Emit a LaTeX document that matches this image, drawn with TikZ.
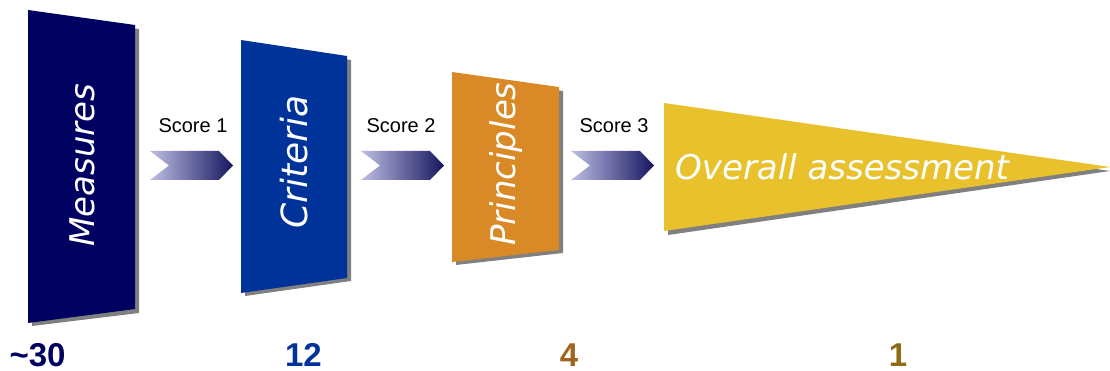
\documentclass[tikz,border=0pt]{standalone}
\usepackage{fontspec}
\setmainfont{Liberation Sans}
\newfontfamily\comicf{DejaVu Sans}
\definecolor{cMeas}{RGB}{0,0,96}
\definecolor{cCrit}{RGB}{0,51,153}
\definecolor{cPrin}{RGB}{217,138,38}
\definecolor{cOver}{RGB}{232,193,44}
\definecolor{cShadow}{RGB}{128,128,128}
\definecolor{cArrL}{RGB}{190,190,228}
\definecolor{cArrD}{RGB}{22,22,96}
\definecolor{cNumFour}{RGB}{160,100,30}
\definecolor{cNumOne}{RGB}{140,108,22}
\tikzset{
  shadowfill/.style={fill=cShadow},
  boxtext/.style={text=white, inner sep=0pt, font=\comicf\itshape\fontsize{34}{36}\selectfont},
  scorelabel/.style={inner sep=0pt, anchor=base, font=\fontsize{20}{22}\selectfont},
  numlabel/.style={inner sep=0pt, anchor=base, font=\bfseries\fontsize{33}{36}\selectfont},
}
\newcommand{\chevron}[2]{% #1 = left x, #2 = name
  \coordinate (#2) at (#1+41.5,165.5);
  \shade[left color=cArrL, right color=cArrD]
    (#1,151) -- (#1+69,151) -- (#1+83,165.5) -- (#1+69,180) -- (#1,180) -- (#1+19,165.5) -- cycle;
}
\begin{document}
\begin{tikzpicture}[x=1pt,y=-1pt]
\useasboundingbox (0,0) rectangle (1110,371);
% shadows
\fill[shadowfill] (32,14) -- (139,29) -- (139,313) -- (32,326) -- cycle;
\fill[shadowfill] (245,44) -- (351,60) -- (351,281) -- (245,296) -- cycle;
\fill[shadowfill] (456,76) -- (563,91) -- (563,253) -- (456,265) -- cycle;
\fill[shadowfill] (668,107) -- (1110,171) -- (668,235) -- cycle;
% boxes
\fill[cMeas] (28,10) -- (135,25) -- (135,309) -- (28,323) -- cycle;
\fill[cCrit] (241,40) -- (347,56) -- (347,278) -- (241,293) -- cycle;
\fill[cPrin] (452,72) -- (559,87) -- (559,250) -- (452,262) -- cycle;
\fill[cOver] (664,103) -- (1110,167) -- (664,231) -- cycle;
% box texts
\node[boxtext, rotate=90] (measures) at (82,165) {Measures};
\node[boxtext, rotate=90, font=\comicf\itshape\fontsize{36}{38}\selectfont] (criteria) at (294,162) {Criteria};
\node[boxtext, rotate=90] (principles) at (506,164) {Principles};
\node[boxtext, anchor=west] (overall) at (675,167) {Overall assessment};
% chevrons
\chevron{150}{arrA}
\chevron{361}{arrB}
\chevron{571}{arrC}
% score labels
\node[scorelabel] (s1) at (193,133) {Score 1};
\node[scorelabel] (s2) at (401,133) {Score 2};
\node[scorelabel] (s3) at (614,133) {Score 3};
% numbers
\node[numlabel, text=cMeas] (n30) at (37.5,366) {\textasciitilde 30};
\node[numlabel, text=cCrit] (n12) at (303.5,366) {12};
\node[numlabel, text=cNumFour] (n4) at (569,366) {4};
\node[numlabel, text=cNumOne] (n1) at (898,366) {1};
\end{tikzpicture}
\end{document}
